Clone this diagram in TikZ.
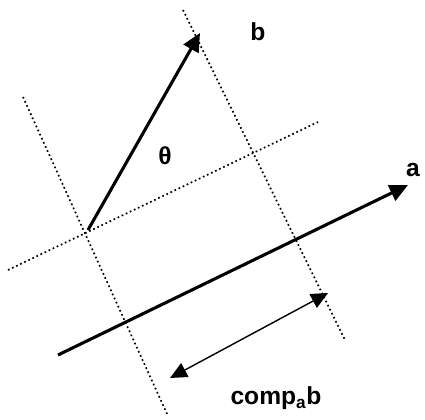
\documentclass[tikz,border=0pt]{standalone}
\usepackage{fontspec}
\setmainfont{Liberation Sans}
\usetikzlibrary{arrows.meta}
\begin{document}
\begin{tikzpicture}[x=0.025cm,y=-0.025cm,
  vec/.style={line width=2.2pt,-{Triangle[length=13pt,width=12pt]}},
  guide/.style={dotted,line width=1.2pt},
  span/.style={line width=1pt,{Triangle[length=12pt,width=11pt]}-{Triangle[length=12pt,width=11pt]}},
  lbl/.style={font=\fontsize{17.5}{20}\selectfont\bfseries}]
\useasboundingbox (0,0) rectangle (425,419);
% points
\coordinate (tail) at (88,230);
\coordinate (headb) at (200,33);
\coordinate (taila) at (58,355);
\coordinate (heada) at (408,185);
% guide lines
\draw[guide] (8,270) -- (318,122);
\draw[guide] (23,97) -- (168,416);
\draw[guide] (183,10) -- (345,340);
% vectors
\draw[vec] (tail) -- (headb);
\draw[vec] (taila) -- (heada);
\coordinate (c0) at (170,378);
\coordinate (c1) at (328,293);
\draw[span] (c0) -- (c1);
% labels
\node[lbl] (lb) at (258,32) {b};
\node[lbl] (la) at (413,170) {a};
\node[lbl] (lt) at (165,156) {θ};
\node[lbl] (lc) at (276,398) {comp\textsubscript{a}b};
\end{tikzpicture}
\end{document}
